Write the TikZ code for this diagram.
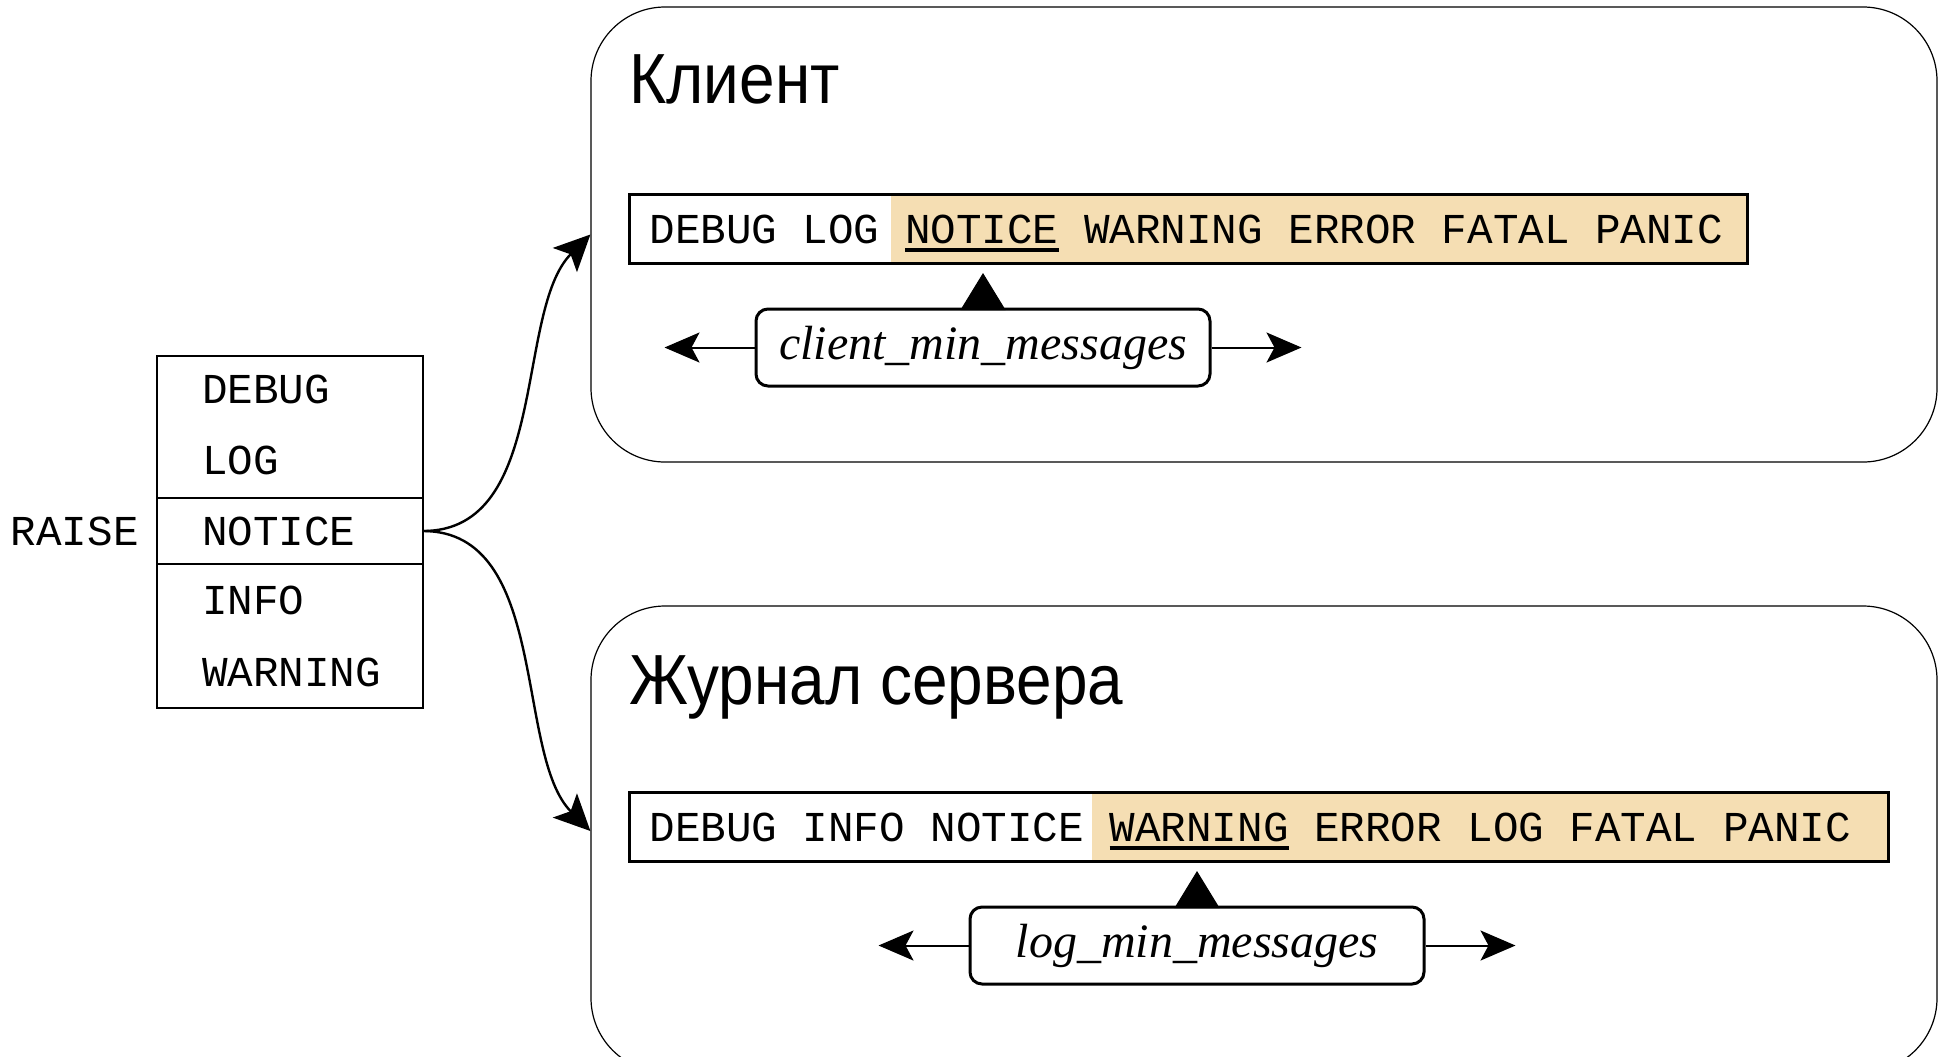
\documentclass[tikz,border=0pt]{standalone}
\usepackage{fontspec}
\setmainfont{Liberation Serif}
\setmonofont{Liberation Mono}
\newfontfamily\titlefont[FakeStretch=0.9]{Liberation Sans}
\usetikzlibrary{arrows.meta}
\usetikzlibrary{positioning,calc}
\usetikzlibrary{backgrounds}

\definecolor{hlwheat}{RGB}{245,222,179}
\newcommand{\lvlfont}{\ttfamily\fontsize{21.3pt}{26pt}\selectfont\spaceskip=0.6em\relax}
\newcommand{\optfont}{\itshape\fontsize{24pt}{28pt}\selectfont}
\newcommand{\lvlmark}[1]{\setbox0\hbox{#1}\rlap{\raisebox{-4.5pt}[0pt][0pt]{\rule{\wd0}{2pt}}}\box0\relax}

\tikzset{
  group/.style={draw, line width=0.6pt, rounded corners=37pt, minimum width=673pt},
  title/.style={font=\titlefont\fontsize{35.5pt}{40pt}\selectfont, inner sep=0pt},
  row/.style={font=\lvlfont, text width=88pt, align=flush left, inner xsep=22.5pt, inner ysep=0pt, outer sep=0pt},
  lvlbar/.style={draw, line width=1.5pt, font=\lvlfont, align=flush left, inner xsep=10pt, inner ysep=0pt, minimum height=34.5pt},
  optbox/.style={draw, line width=1.5pt, rounded corners=6pt, minimum width=227pt, minimum height=38.5pt, font=\optfont},
  flow/.style={-{Stealth[length=18pt,width=17pt,inset=4pt]}, line width=1.2pt},
  sidearrow/.style={-{Stealth[length=17.5pt,width=15pt,inset=4pt]}, line width=1pt},
  pointer/.style={-{Triangle[length=18.5pt,width=22.5pt]}, line width=0.5pt, shorten >=4pt},
}

\begin{document}
\begin{tikzpicture}[x=0.5pt, y=-0.5pt]
    \useasboundingbox (0,0) rectangle (1946,1056);
    \node[group, minimum height=227.5pt] (client) at (1264,234.5) {};
    \node[group, minimum height=233pt] (server) at (1264,839) {};
    \node[title, anchor=base west] (cltitle) at (629,103) {Клиент};
    \node[title, anchor=base west] (lgtitle) at (629,704) {Журнал сервера};

    % RAISE levels
    \node[row, minimum height=33pt] (debug) at (290,389) {DEBUG};
    \node[row, below=0pt of debug, minimum height=38pt] (log) {LOG};
    \node[row, below=0pt of log, minimum height=33pt] (notice) {NOTICE};
    \node[row, below=0pt of notice, minimum height=36pt] (info) {INFO};
    \node[row, below=0pt of info, minimum height=36pt] (warning) {WARNING};
    \node[font=\lvlfont, inner sep=0pt, left=9pt of notice] (raise) {RAISE};
    \draw[line width=1.2pt] (debug.north west) rectangle (warning.south east);
    \draw[line width=0.6pt] (notice.north west) -- (notice.north east);
    \draw[line width=0.6pt] (notice.south west) -- (notice.south east);

    % thresholds
    \node[lvlbar, text width=539pt, anchor=north west] (clbar) at (628,193)
        {DEBUG LOG \lvlmark{NOTICE} WARNING ERROR FATAL PANIC};
    \node[lvlbar, text width=609.5pt, anchor=north west] (lgbar) at (628,791)
        {DEBUG INFO NOTICE \lvlmark{WARNING} ERROR LOG FATAL PANIC};
    \begin{scope}[on background layer]
      \fill[hlwheat] ($(clbar.north west)+(263,0)$) rectangle (clbar.south east);
      \fill[hlwheat] ($(lgbar.north west)+(464,0)$) rectangle (lgbar.south east);
    \end{scope}

    \node[optbox] (clopt) at (983,347.5) {client\_min\_messages};
    \node[optbox] (lgopt) at (1197,945.5) {log\_min\_messages};
    \coordinate[left=45pt of clopt] (cllo);
    \coordinate[right=45pt of clopt] (clhi);
    \coordinate[left=45pt of lgopt] (lglo);
    \coordinate[right=45pt of lgopt] (lghi);
    \path[sidearrow] (clopt) edge (cllo) (clopt) edge (clhi);
    \path[sidearrow] (lgopt) edge (lglo) (lgopt) edge (lghi);
    \path[pointer] (clopt) edge (clopt |- clbar.south);
    \path[pointer] (lgopt) edge (lgopt |- lgbar.south);

    \coordinate (lgin) at ($(server.west)+(0,-8)$);
    \draw[flow] (notice.east) .. controls +(127,0) and +(-76,76) .. (client.west);
    \draw[flow] (notice.east) .. controls +(127,0) and +(-76,-76) .. (lgin);
\end{tikzpicture}
\end{document}
